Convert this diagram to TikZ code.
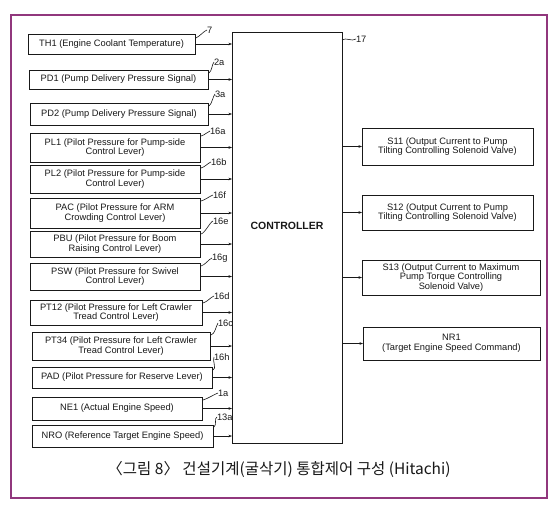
\documentclass[tikz,border=0pt]{standalone}
\usepackage{fontspec}
\setmainfont{Liberation Sans}
\newfontfamily\kofont{Noto Sans CJK KR}
\usetikzlibrary{arrows.meta}
\definecolor{framepurple}{RGB}{145,55,125}
\definecolor{ink}{RGB}{25,25,25}
\begin{document}
\begin{tikzpicture}[x=1pt,y=-1pt,
  every node/.style={inner sep=0pt,outer sep=0pt},
  box/.style={draw=ink,line width=0.9pt,align=center,font=\fontsize{9.3}{9.6}\selectfont,text=ink},
  arr/.style={draw=ink,line width=0.7pt,-{Stealth[length=3.5pt,width=2.6pt]}},
  lead/.style={draw=ink,line width=0.6pt},
  ref/.style={font=\fontsize{9.3}{10}\selectfont,text=ink,anchor=west}]
\useasboundingbox (0,0) rectangle (553,508);
\fill[white] (0,0) rectangle (553,508);
\draw[framepurple,line width=1.6pt] (11,15) rectangle (547,498);

% controller
\node[draw=ink,line width=0.9pt,minimum width=110pt,minimum height=411pt] (ctrl) at (287,237.5) {};
\node[font=\bfseries\fontsize{10.5}{12}\selectfont,text=ink] (ctrllabel) at (287,226) {CONTROLLER};

% inputs
\node[box,minimum width=167pt,minimum height=20pt] (th1) at (111.5,44) {TH1 (Engine Coolant Temperature)};
\node[box,minimum width=179pt,minimum height=19pt] (pd1) at (118.5,79.5) {PD1 (Pump Delivery Pressure Signal)};
\node[box,minimum width=178pt,minimum height=22pt] (pd2) at (119,114) {PD2 (Pump Delivery Pressure Signal)};
\node[box,minimum width=170pt,minimum height=29pt] (pl1) at (115,147.5) {PL1 (Pilot Pressure for Pump-side\\Control Lever)};
\node[box,minimum width=170pt,minimum height=28pt] (pl2) at (115,179) {PL2 (Pilot Pressure for Pump-side\\Control Lever)};
\node[box,minimum width=170pt,minimum height=30pt] (pac) at (115,213) {PAC (Pilot Pressure for ARM\\Crowding Control Lever)};
\node[box,minimum width=170pt,minimum height=26pt] (pbu) at (115,244) {PBU (Pilot Pressure for Boom\\Raising Control Lever)};
\node[box,minimum width=170pt,minimum height=27pt] (psw) at (115,276.5) {PSW (Pilot Pressure for Swivel\\Control Lever)};
\node[box,minimum width=172pt,minimum height=25pt] (pt12) at (116,312.5) {PT12 (Pilot Pressure for Left Crawler\\Tread Control Lever)};
\node[box,minimum width=178pt,minimum height=28pt] (pt34) at (121,346) {PT34 (Pilot Pressure for Left Crawler\\Tread Control Lever)};
\node[box,minimum width=180pt,minimum height=21pt] (pad) at (122,377.5) {PAD (Pilot Pressure for Reserve Lever)};
\node[box,minimum width=170pt,minimum height=23pt] (ne1) at (117,408.5) {NE1 (Actual Engine Speed)};
\node[box,minimum width=181pt,minimum height=22pt] (nro) at (122.5,436) {NRO (Reference Target Engine Speed)};

\foreach \n in {th1,pd1,pd2,pl1,pl2,pac,pbu,psw,pt12,pt34,pad,ne1,nro}
  \draw[arr] (\n.east) -- (\n.east -| ctrl.west);

% outputs
\node[box,minimum width=171pt,minimum height=37pt] (s11) at (447.5,146.5) {S11 (Output Current to Pump\\Tilting Controlling Solenoid Valve)};
\node[box,minimum width=171pt,minimum height=35pt] (s12) at (447.5,212.5) {S12 (Output Current to Pump\\Tilting Controlling Solenoid Valve)};
\node[box,minimum width=178pt,minimum height=35pt] (s13) at (451,277.5) {S13 (Output Current to Maximum\\Pump Torque Controlling\\Solenoid Valve)};
\node[box,minimum width=177pt,minimum height=33pt] (nr1) at (451.5,343.5) {NR1\\(Target Engine Speed Command)};

\foreach \n in {s11,s12,s13,nr1}
  \draw[arr] (ctrl.east |- \n.west) -- (\n.west);

% reference numerals
\node[ref] (r7) at (207,30) {7};
\node[ref] (r2a) at (214,62) {2a};
\node[ref] (r3a) at (215,94) {3a};
\node[ref] (r16a) at (210,131) {16a};
\node[ref] (r16b) at (211,162) {16b};
\node[ref] (r16f) at (213,195) {16f};
\node[ref] (r16e) at (213,221) {16e};
\node[ref] (r16g) at (212,258) {16g};
\node[ref] (r16d) at (214,296) {16d};
\node[ref] (r16c) at (218,323) {16c};
\node[ref] (r16h) at (214,357) {16h};
\node[ref] (r1a) at (218,393) {1a};
\node[ref] (r13a) at (217,417) {13a};
\node[ref] (r17) at (356,39) {17};

\draw[lead] ([xshift=1pt,yshift=-4pt]th1.north east) .. controls +(4,-2) and +(-3,1) .. (r7.west);
\draw[lead] ([xshift=1pt,yshift=-3pt]pd1.north east) .. controls +(3,-2) and +(-2,2) .. (r2a.west);
\draw[lead] ([xshift=1pt,yshift=-3pt]pd2.north east) .. controls +(3,-2) and +(-2,2) .. (r3a.west);
\draw[lead] ([xshift=1pt,yshift=-3pt]pl1.north east) .. controls +(4,-1) and +(-3,1) .. (r16a.west);
\draw[lead] ([xshift=1pt,yshift=-3pt]pl2.north east) .. controls +(4,-1) and +(-3,1) .. (r16b.west);
\draw[lead] ([xshift=1pt,yshift=-3pt]pac.north east) .. controls +(4,-1) and +(-3,1) .. (r16f.west);
\draw[lead] ([xshift=1pt,yshift=-3pt]pbu.north east) .. controls +(4,-1) and +(-3,1) .. (r16e.west);
\draw[lead] ([xshift=1pt,yshift=-3pt]psw.north east) .. controls +(4,-1) and +(-3,1) .. (r16g.west);
\draw[lead] ([xshift=1pt,yshift=-3pt]pt12.north east) .. controls +(4,-1) and +(-3,1) .. (r16d.west);
\draw[lead] ([xshift=1pt,yshift=-3pt]pt34.north east) .. controls +(4,-1) and +(-2,3) .. (r16c.west);
\draw[lead] ([xshift=1pt,yshift=-3pt]pad.north east) .. controls +(4,-1) and +(-2,3) .. (r16h.west);
\draw[lead] ([xshift=1pt,yshift=-3pt]ne1.north east) .. controls +(4,-1) and +(-3,1) .. (r1a.west);
\draw[lead] ([xshift=1pt,yshift=-2pt]nro.north east) .. controls +(3,-2) and +(-3,1) .. (r13a.west);
\draw[lead] ([yshift=-8pt]ctrl.north east) .. controls +(4,-3) and +(-4,3) .. (r17.west);

% caption
\node[font=\kofont\fontsize{15.5}{17}\selectfont,text=ink] (cap) at (279,469) {〈그림 8〉 건설기계(굴삭기) 통합제어 구성 (Hitachi)};
\end{tikzpicture}
\end{document}
